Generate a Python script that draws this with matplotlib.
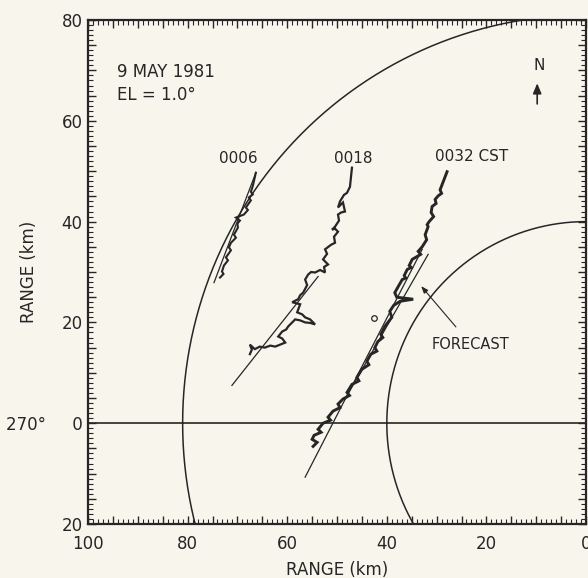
import matplotlib
matplotlib.use("Agg")
import matplotlib.pyplot as plt
import numpy as np
from matplotlib.ticker import MultipleLocator, FuncFormatter

# range rings (km) about the radar
ring_radii = [81.0, 40.0]

# y tick labels: below the 270 deg line the range counts up again
ytick_vals = [-20, 0, 20, 40, 60, 80]
ytick_text = ["20", "270\u00b0     0", "20", "40", "60", "80"]
xtick_vals = [100, 80, 60, 40, 20, 0]

# tracked echo positions (x range, y range) in km
trace_0006 = [(66.3, 49.7), (66.9, 47.1), (67.3, 45.9), (66.9, 45.4), (67.7, 44.8),
              (67.3, 44.2), (68.3, 42.8), (67.9, 42.3), (68.7, 41.4), (70.3, 40.8),
              (69.5, 40.2), (70.0, 39.6), (69.9, 38.8), (70.7, 37.4), (70.3, 36.8),
              (71.3, 35.8), (71.7, 34.9), (71.3, 34.3), (72.3, 32.9), (71.9, 32.3),
              (72.7, 31.3), (73.1, 30.1), (72.8, 29.6), (73.5, 28.9)]
trace_0018 = [(47.0, 50.7), (47.4, 46.9), (48.0, 45.7), (48.6, 45.3), (49.4, 44.0),
              (49.8, 42.8), (48.8, 43.8), (48.4, 42.0), (49.2, 41.8), (49.8, 41.4),
              (49.6, 40.2), (50.4, 39.0), (51.0, 38.4), (50.4, 38.6), (49.8, 38.0),
              (50.6, 37.0), (50.4, 35.8), (51.2, 35.4), (52.4, 34.5), (52.0, 33.6),
              (52.8, 32.5), (51.8, 31.5), (52.6, 31.0), (52.4, 29.9), (53.4, 30.4),
              (54.4, 29.9), (55.2, 30.0), (55.8, 29.5), (56.4, 28.5), (56.0, 27.4),
              (56.8, 25.9), (57.4, 25.4), (57.8, 24.6), (59.0, 24.0), (58.2, 23.8),
              (57.4, 23.6), (58.0, 22.0), (57.0, 21.6), (56.4, 21.0), (55.4, 20.6),
              (54.4, 19.6), (55.4, 19.9), (56.4, 20.0), (57.4, 20.4), (58.4, 20.6),
              (59.8, 19.2), (60.2, 18.6), (61.0, 18.2), (61.8, 17.2), (61.0, 16.8),
              (60.4, 16.0), (61.4, 15.6), (62.4, 15.2), (63.4, 15.4), (64.5, 15.0),
              (65.5, 15.2), (66.5, 14.7), (67.5, 15.6), (67.1, 14.6), (67.5, 13.7)]
trace_0032 = [(27.9, 49.9), (29.3, 46.3), (29.0, 45.6), (29.7, 45.1), (30.3, 44.4),
              (30.1, 43.6), (30.9, 43.0), (31.1, 41.8), (30.6, 41.0), (31.5, 40.0),
              (31.9, 39.4), (31.7, 39.0), (32.3, 37.4), (32.0, 36.4), (32.9, 35.0),
              (33.7, 34.1), (33.2, 33.5), (34.9, 32.5), (35.5, 31.3), (35.1, 30.9),
              (35.9, 30.5), (36.5, 29.3), (36.2, 28.8), (36.9, 28.5), (37.6, 27.3),
              (38.4, 25.9), (38.0, 25.0), (34.7, 24.6), (37.3, 24.2), (38.6, 23.4),
              (39.4, 22.2), (39.0, 21.0), (40.4, 19.2), (41.2, 17.6), (40.8, 17.0),
              (41.8, 16.2), (42.4, 15.0), (42.0, 14.3), (43.2, 13.7), (44.0, 12.3),
              (43.6, 11.6), (45.0, 10.7), (46.0, 9.1), (45.6, 8.4), (47.0, 7.7),
              (48.0, 6.1), (47.5, 5.5), (48.8, 4.8), (49.8, 3.8), (49.4, 3.1),
              (50.8, 2.4), (51.8, 1.2), (51.3, 0.6), (52.8, 0.0), (53.8, -1.2),
              (53.2, -1.8), (54.6, -2.4), (55.0, -3.2), (54.0, -3.8), (54.8, -4.6)]

# straight-line fits through each track, and the forecast track
fit_0006 = [(66.3, 49.7), (74.7, 27.9)]
fit_0018 = [(53.8, 29.1), (71.1, 7.5)]
fit_0032 = [(32.9, 34.5), (56.4, -10.7)]
forecast = [(31.7, 33.5), (48.4, 4.75)]
odd_echo = (42.6, 20.8)

ink = "#262626"
paper = "#f7f5ec"

fig = plt.figure(figsize=(5.88, 5.78), dpi=100, facecolor=paper)
ax = fig.add_axes([0.1497, 0.0934, 0.8469, 0.872])
ax.set_facecolor(paper)
ax.set_xlim(100, 0)
ax.set_ylim(-20, 80)

th = np.linspace(0, 2 * np.pi, 720)
for r in ring_radii:
    ax.plot(r * np.cos(th), r * np.sin(th), color=ink, lw=1.1)

ax.axhline(0, color=ink, lw=1.2)

for tr, lw in [(trace_0006, 1.5), (trace_0018, 1.6), (trace_0032, 2.1)]:
    xs, ys = zip(*tr)
    ax.plot(xs, ys, color=ink, lw=lw, solid_joinstyle="miter")

for ln in [fit_0006, fit_0018, fit_0032, forecast]:
    xs, ys = zip(*ln)
    ax.plot(xs, ys, color=ink, lw=0.9)

ax.plot(*odd_echo, marker="o", ms=4, mfc="none", mec=ink, mew=0.9)

txt = dict(color=ink, fontsize=12, family="DejaVu Sans")
ax.text(94.2, 69.7, "9 MAY 1981", ha="left", va="center", **txt)
ax.text(94.2, 65.1, "EL = 1.0\u00b0", ha="left", va="center", **txt)
ax.text(69.9, 52.6, "0006", ha="center", va="center", fontsize=11, color=ink)
ax.text(46.8, 52.6, "0018", ha="center", va="center", fontsize=11, color=ink)
ax.text(22.9, 52.9, "0032 CST", ha="center", va="center", fontsize=11, color=ink)
ax.text(9.4, 71.0, "N", ha="center", va="center", fontsize=11, color=ink)
ax.annotate("", xy=(9.8, 68.0), xytext=(9.8, 62.8),
            arrowprops=dict(arrowstyle="-|>,head_width=0.25,head_length=0.6",
                            color=ink, lw=1.2))
ax.annotate("FORECAST", xy=(33.1, 27.2), xytext=(23.1, 15.6),
            ha="center", va="center", fontsize=10.5, color=ink,
            arrowprops=dict(arrowstyle="-|>,head_width=0.15,head_length=0.4",
                            color=ink, lw=0.8, shrinkA=7, shrinkB=0))

# frame and ticks: fine inward ticks every km on all four sides
for s in ax.spines.values():
    s.set_linewidth(1.6)
    s.set_color(ink)
ax.xaxis.set_major_locator(MultipleLocator(5))
ax.yaxis.set_major_locator(MultipleLocator(5))
ax.xaxis.set_minor_locator(MultipleLocator(1))
ax.yaxis.set_minor_locator(MultipleLocator(1))
ax.xaxis.set_major_formatter(FuncFormatter(
    lambda v, p: f"{int(v)}" if int(round(v)) in xtick_vals else ""))
ylab = dict(zip(ytick_vals, ytick_text))
ax.yaxis.set_major_formatter(FuncFormatter(
    lambda v, p: ylab.get(int(round(v)), "")))
ax.tick_params(which="both", direction="in", top=True, right=True, colors=ink,
               labelsize=12, width=1.0)
ax.tick_params(which="major", length=6)
ax.tick_params(which="minor", length=3.5, width=0.8)
ax.tick_params(axis="x", pad=8)
ax.tick_params(axis="y", pad=4)

ax.set_xlabel("RANGE (km)", fontsize=12, color=ink, labelpad=6)
ax.set_ylabel("RANGE (km)", fontsize=12, color=ink)
ax.yaxis.set_label_coords(-0.10, 0.5)

fig.savefig("out.png", dpi=100, facecolor=paper)
